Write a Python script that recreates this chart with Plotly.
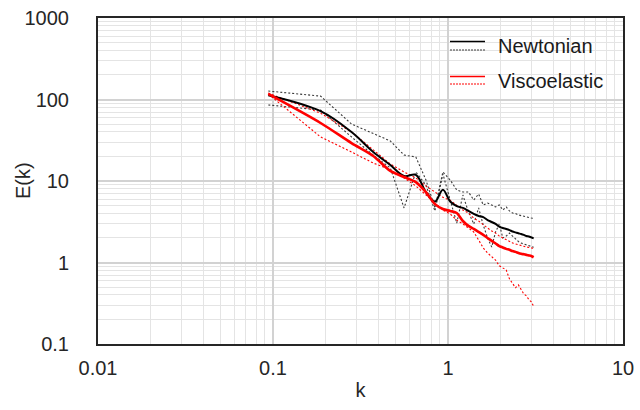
import plotly.graph_objects as go

# wavenumber
k = [0.094, 0.187, 0.281, 0.374, 0.468, 0.561, 0.655, 0.748, 0.842, 0.935,
     1.029, 1.122, 1.216, 1.309, 1.403, 1.496, 1.59, 1.683, 1.777, 1.87,
     1.964, 2.057, 2.151, 2.244, 2.338, 2.431, 2.525, 2.618, 2.712, 2.805,
     2.899, 2.992, 3.086]

newt_mean = [113, 72, 39.9, 22.7, 15.7, 11.5, 11.9, 7.3, 5.6, 7.8,
             5.6, 4.93, 4.67, 4.29, 3.94, 3.72, 3.6, 3.32, 3.14, 2.97,
             2.76, 2.65, 2.58, 2.5, 2.4, 2.34, 2.28, 2.24, 2.18, 2.11,
             2.09, 2.03, 1.98]

newt_a = [127, 110, 50, 37.8, 31, 20.8, 19.7, 10.3, 4.67, 12.9,
          10.3, 7.76, 7.33, 7.33, 5.85, 6.92, 5.08, 5.37, 5.08, 4.8,
          5.08, 4.4, 4.8, 4.29, 4.05, 3.99, 3.83, 3.78, 3.72, 3.62,
          3.57, 3.52, 3.48]

newt_b = [85.7, 74.3, 34.7, 20.8, 14.5, 4.67, 12.9, 8.9, 4.29, 12.2,
          5.85, 3.05, 6.73, 4.17, 2.97, 4.67, 2.88, 2.0, 1.55, 2.37,
          2.97, 2.0, 2.11, 2.3, 2.11, 1.94, 1.81, 1.73, 1.69, 1.64,
          1.59, 1.57, 1.54]

visc_mean = [117, 51.5, 29.2, 20.3, 13.3, 11.2, 9.7, 7.3, 5.2, 4.53,
             4.29, 4.05, 3.23, 2.81, 2.58, 2.37, 2.18, 2.0, 1.84, 1.71,
             1.59, 1.53, 1.47, 1.43, 1.38, 1.35, 1.31, 1.28, 1.26, 1.24,
             1.22, 1.2, 1.16]

visc_a = [120, 68, 40, 24, 16.2, 12.9, 10.9, 8.7, 7.3, 6.3,
          5.8, 5.0, 4.4, 4.05, 3.5, 3.23, 2.88, 2.65, 2.44, 2.3,
          2.11, 2.0, 1.89, 1.84, 1.74, 1.69, 1.64, 1.6, 1.58, 1.55,
          1.53, 1.51, 1.49]

visc_b = [117, 34.7, 22.7, 16.6, 13.7, 10.9, 8.7, 6.7, 5.4, 4.4,
          3.94, 3.32, 2.97, 2.65, 2.37, 1.89, 1.51, 1.31, 1.17, 1.07,
          0.91, 0.86, 0.81, 0.63, 0.56, 0.49, 0.53, 0.46, 0.41, 0.39,
          0.35, 0.33, 0.29]

x_ticks = [0.01, 0.1, 1, 10]
x_ticktext = ["0.01", "0.1", "1", "10"]
y_ticks = [0.1, 1, 10, 100, 1000]
y_ticktext = ["0.1", "1", "10", "100", "1000"]
legend_names = ["Newtonian", "Viscoelastic"]

BLACK = "#000000"
GRAYD = "#3a3a3a"
RED = "#ff0000"
TXT = "#262626"
FONT = "Liberation Sans, Arial, sans-serif"

fig = go.Figure()
dash = "2px,2px"
fig.add_trace(go.Scatter(x=k, y=newt_a, mode="lines", line=dict(color=GRAYD, width=1.1, dash=dash), showlegend=False))
fig.add_trace(go.Scatter(x=k, y=newt_b, mode="lines", line=dict(color=GRAYD, width=1.1, dash=dash), showlegend=False))
fig.add_trace(go.Scatter(x=k, y=visc_a, mode="lines", line=dict(color=RED, width=1.1, dash=dash), showlegend=False))
fig.add_trace(go.Scatter(x=k, y=visc_b, mode="lines", line=dict(color=RED, width=1.1, dash=dash), showlegend=False))
fig.add_trace(go.Scatter(x=k, y=newt_mean, mode="lines", line=dict(color=BLACK, width=2, shape="spline", smoothing=1.0), showlegend=False))
fig.add_trace(go.Scatter(x=k, y=visc_mean, mode="lines", line=dict(color=RED, width=2.6, shape="spline", smoothing=0.8), showlegend=False))

minor_x = [m * 10 ** e for e in (-2, -1, 0) for m in range(2, 10)]
minor_y = [m * 10 ** e for e in (-1, 0, 1, 2) for m in range(2, 10)]

fig.update_xaxes(
    type="log", range=[-2, 1], tickvals=x_ticks, ticktext=x_ticktext, automargin=False,
    showgrid=True, gridcolor="#d2d2d2", gridwidth=1.5,
    minor=dict(tickvals=minor_x, showgrid=True, gridcolor="#e4e4e4", gridwidth=1.2, ticks=""),
    showline=True, linecolor=TXT, linewidth=2, mirror=True,
    ticks="", zeroline=False, ticklabelstandoff=5,
    tickfont=dict(family=FONT, size=20, color=TXT),
    title=dict(text="k", font=dict(family=FONT, size=20, color=TXT), standoff=5),
)
fig.update_yaxes(
    type="log", range=[-1, 3], tickvals=y_ticks, ticktext=y_ticktext, automargin=False,
    showgrid=True, gridcolor="#d2d2d2", gridwidth=1.5,
    minor=dict(tickvals=minor_y, showgrid=True, gridcolor="#e4e4e4", gridwidth=1.2, ticks=""),
    showline=True, linecolor=TXT, linewidth=2, mirror=True,
    ticks="", zeroline=False, ticklabelstandoff=23,
    tickfont=dict(family=FONT, size=20, color=TXT),
)

W, H = 640, 410
L, R, T, B = 98, 17, 18, 66
pw, ph = W - L - R, H - T - B


def px(xp):
    return (xp - L) / pw


def py(yp):
    return 1 - (yp - T) / ph


# y-axis title placed as in the reference
fig.add_annotation(text="E(k)", xref="paper", yref="paper", x=px(23), y=py(181), textangle=-90,
                   xanchor="center", yanchor="middle", showarrow=False,
                   font=dict(family=FONT, size=20, color=TXT))

# legend drawn manually (solid + dotted sample per entry)
entries = [(legend_names[0], BLACK, GRAYD, 41.5, 50, 46), (legend_names[1], RED, RED, 76.5, 84, 80.5)]
for name, c1, c2, ys, yd, yt in entries:
    fig.add_shape(type="line", xref="paper", yref="paper", x0=px(450), x1=px(485), y0=py(ys), y1=py(ys),
                  line=dict(color=c1, width=1.5))
    fig.add_shape(type="line", xref="paper", yref="paper", x0=px(450), x1=px(485), y0=py(yd), y1=py(yd),
                  line=dict(color=c2, width=1, dash="2px,1px"))
    fig.add_annotation(text=name, xref="paper", yref="paper", x=px(496), y=py(yt), xanchor="left",
                       yanchor="middle", showarrow=False, font=dict(family=FONT, size=20, color="#1a1a1a"))

fig.update_layout(
    width=W, height=H, margin=dict(l=L, r=R, t=T, b=B, autoexpand=False),
    paper_bgcolor="white", plot_bgcolor="white", showlegend=False,
)

fig.write_html("out.html")
